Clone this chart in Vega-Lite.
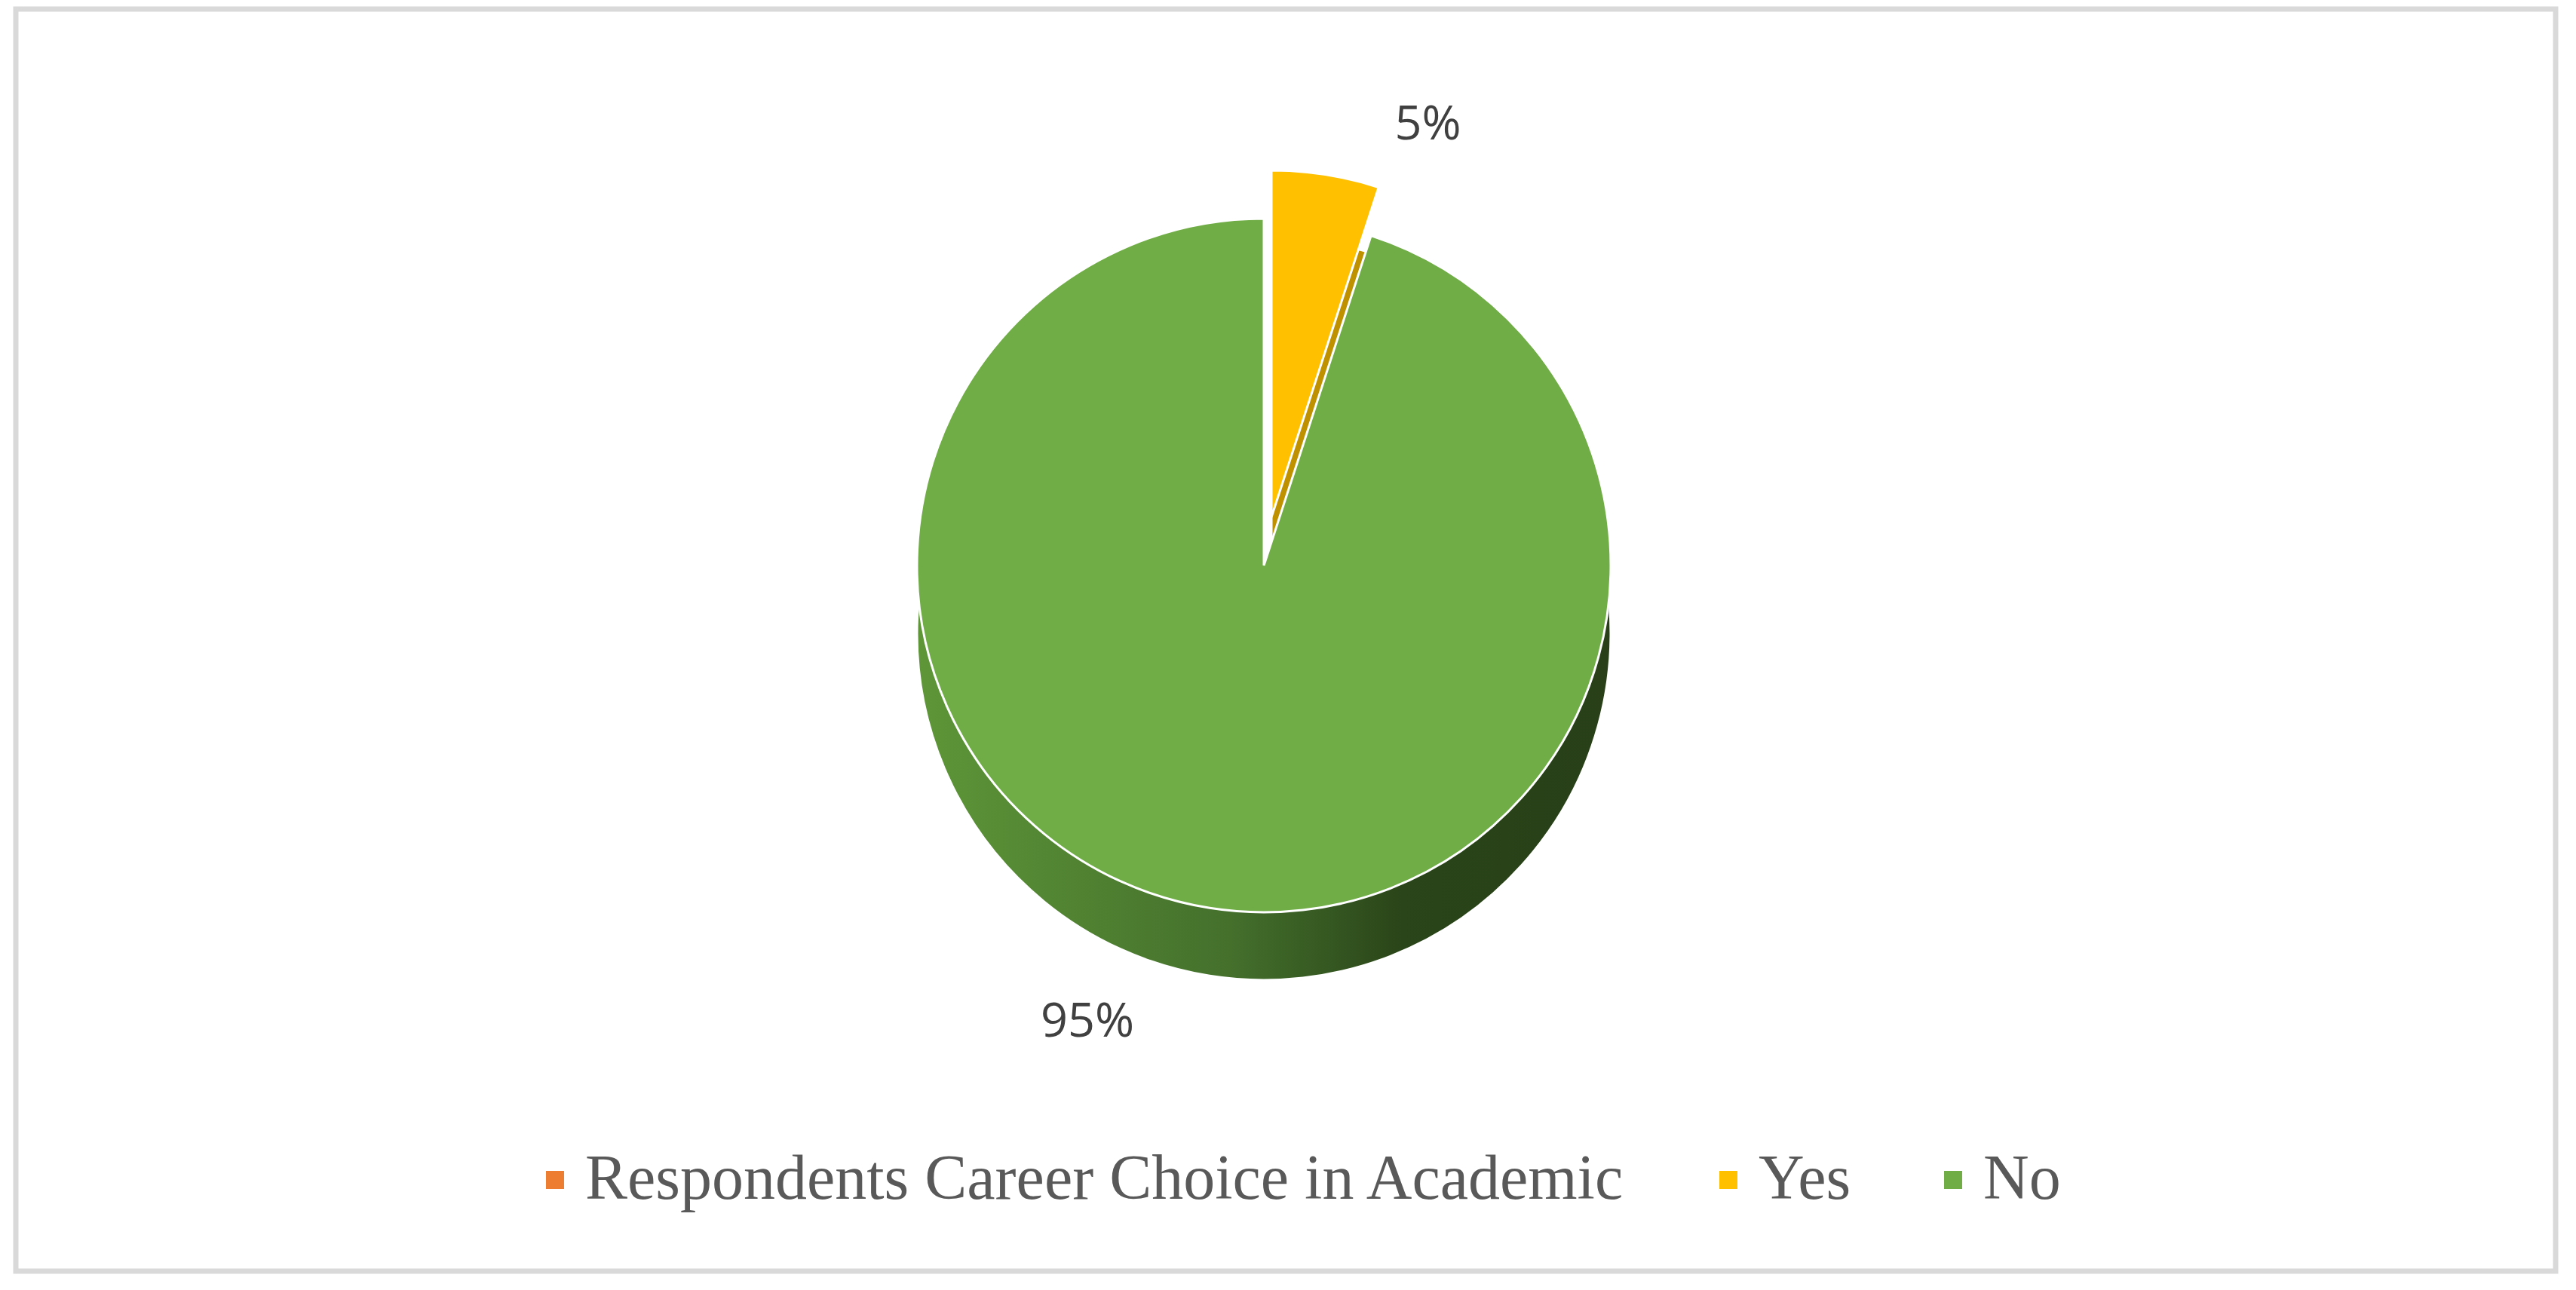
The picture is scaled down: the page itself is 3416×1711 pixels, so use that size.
{
  "$schema": "https://vega.github.io/schema/vega-lite/v6.json",
  "width": 3368,
  "height": 1674,
  "autosize": {"type": "none"},
  "padding": {"left": 21, "top": 12, "right": 27, "bottom": 25},
  "background": "#FFFFFF",
  "config": {
    "view": {"stroke": null},
    "legend": {
      "orient": "none",
      "legendX": 673,
      "legendY": 1511,
      "direction": "horizontal",
      "padding": 0,
      "labelFont": "Liberation Serif",
      "labelFontSize": 84,
      "labelColor": "#595959",
      "labelLimit": 3000,
      "labelOffset": -2,
      "columnPadding": 93,
      "symbolType": "square",
      "symbolSize": 576,
      "symbolStrokeWidth": 0,
      "title": null
    }
  },
  "data": {
    "values": [
      {"Category": "Yes", "Share": 0.05},
      {"Category": "No", "Share": 0.95}
    ]
  },
  "layer": [
    {
      "data": {"values": [{"frame": "border"}]},
      "mark": {"type": "rect", "fill": null, "stroke": "#D9D9D9", "strokeWidth": 7},
      "encoding": {
        "x": {"value": 0},
        "x2": {"value": "width"},
        "y": {"value": 0},
        "y2": {"value": "height"}
      }
    },
    {
      "transform": [
        {"stack": "Share", "groupby": [], "sort": [{"field": "Category", "order": "descending"}], "as": ["s0", "s1"]},
        {"filter": "datum.Category === 'No'"}
      ],
      "mark": {
        "type": "arc",
        "outerRadius": 460,
        "xOffset": -29,
        "yOffset": -9,
        "stroke": "#FFFFFF",
        "strokeWidth": 3,
        "fill": {
          "gradient": "linear",
          "x1": 0, "y1": 0, "x2": 1, "y2": 0,
          "stops": [
            {"offset": 0, "color": "#5E9638"},
            {"offset": 0.45, "color": "#44702C"},
            {"offset": 0.7, "color": "#2A4519"},
            {"offset": 1, "color": "#283F17"}
          ]
        }
      },
      "encoding": {
        "theta": {"field": "s0", "type": "quantitative", "scale": {"domain": [0, 1]}},
        "theta2": {"field": "s1"}
      }
    },
    {
      "transform": [
        {"stack": "Share", "groupby": [], "sort": [{"field": "Category", "order": "descending"}], "as": ["s0", "s1"]},
        {"filter": "datum.Category === 'Yes'"}
      ],
      "mark": {
        "type": "arc",
        "outerRadius": 460,
        "xOffset": -19,
        "yOffset": -73,
        "stroke": "#FFFFFF",
        "strokeWidth": 3,
        "fill": "#BF9000"
      },
      "encoding": {
        "theta": {"field": "s0", "type": "quantitative", "scale": {"domain": [0, 1]}},
        "theta2": {"field": "s1"}
      }
    },
    {
      "transform": [
        {"stack": "Share", "groupby": [], "sort": [{"field": "Category", "order": "descending"}], "as": ["s0", "s1"]},
        {"filter": "datum.Category === 'No'"}
      ],
      "mark": {
        "type": "arc",
        "outerRadius": 460,
        "xOffset": -29,
        "yOffset": -99,
        "stroke": "#FFFFFF",
        "strokeWidth": 3
      },
      "encoding": {
        "theta": {"field": "s0", "type": "quantitative", "scale": {"domain": [0, 1]}},
        "theta2": {"field": "s1"},
        "color": {
          "field": "Category",
          "type": "nominal",
          "scale": {
            "domain": ["Respondents Career Choice in Academic", "Yes", "No"],
            "range": ["#ED7D31", "#FFC000", "#70AD47"]
          },
          "legend": {"title": null}
        }
      }
    },
    {
      "transform": [
        {"stack": "Share", "groupby": [], "sort": [{"field": "Category", "order": "descending"}], "as": ["s0", "s1"]},
        {"filter": "datum.Category === 'Yes'"}
      ],
      "mark": {
        "type": "arc",
        "outerRadius": 460,
        "xOffset": -19,
        "yOffset": -163,
        "stroke": "#FFFFFF",
        "strokeWidth": 3
      },
      "encoding": {
        "theta": {"field": "s0", "type": "quantitative", "scale": {"domain": [0, 1]}},
        "theta2": {"field": "s1"},
        "color": {
          "field": "Category",
          "type": "nominal",
          "scale": {
            "domain": ["Respondents Career Choice in Academic", "Yes", "No"],
            "range": ["#ED7D31", "#FFC000", "#70AD47"]
          },
          "legend": {"title": null}
        }
      }
    },
    {
      "mark": {
        "type": "text",
        "radius": 591,
        "xOffset": 96,
        "yOffset": -99,
        "font": "Open Sans",
        "fontSize": 63,
        "color": "#404040",
        "align": "center",
        "baseline": "middle"
      },
      "encoding": {
        "theta": {"field": "Share", "type": "quantitative", "stack": true},
        "order": {"field": "Category", "sort": "descending"},
        "text": {
          "condition": {"test": "datum.Category === 'Yes'", "field": "Share", "type": "quantitative", "format": ".0%"},
          "value": ""
        }
      }
    },
    {
      "mark": {
        "type": "text",
        "radius": 614,
        "xOffset": -167,
        "yOffset": -99,
        "font": "Open Sans",
        "fontSize": 63,
        "color": "#404040",
        "align": "center",
        "baseline": "middle"
      },
      "encoding": {
        "theta": {"field": "Share", "type": "quantitative", "stack": true},
        "order": {"field": "Category", "sort": "descending"},
        "text": {
          "condition": {"test": "datum.Category === 'No'", "field": "Share", "type": "quantitative", "format": ".0%"},
          "value": ""
        }
      }
    }
  ]
}
